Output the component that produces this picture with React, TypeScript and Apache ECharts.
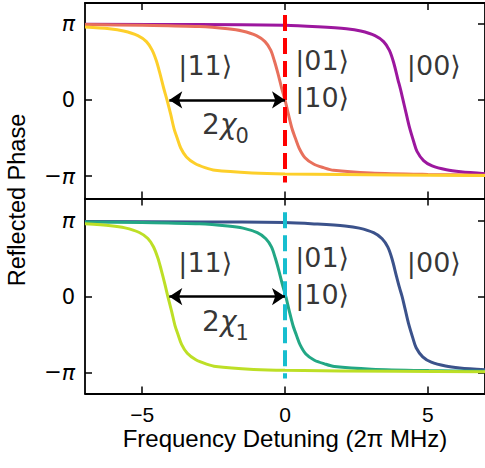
import React, { useEffect, useRef } from "react";
import * as echarts from "echarts";

const PI = Math.PI;
const xTicks = [-5, 0, 5];
const yTicks = [-PI, 0, PI];

// Top panel (qubit 0)
const top11X = [-7, -6.15, -5.65, -5.15, -4.85, -4.65, -4.5, -4.38, -4.25, -4.13, -4.0, -3.88, -3.78, -3.65, -3.45, -3.15, -2.8, -2.45, -1.15, 0.0, 3.85, 7];
const top11Y = [3.0, 2.93, 2.84, 2.65, 2.4, 2.05, 1.6, 1.1, 0.5, 0, -0.6, -1.2, -1.55, -1.98, -2.35, -2.62, -2.79, -2.9, -3.01, -3.05, -3.09, -3.11];
const top01X = [-7, -5, -3, -2, -1.5, -1.0, -0.7, -0.5, -0.37, -0.25, -0.12, 0, 0.12, 0.25, 0.37, 0.5, 0.7, 1.0, 1.35, 1.7, 3.0, 5.0, 7];
const top01Y = [3.1, 3.07, 3.02, 2.93, 2.84, 2.65, 2.4, 2.05, 1.6, 1.1, 0.5, 0, -0.6, -1.2, -1.6, -2.0, -2.38, -2.64, -2.79, -2.9, -3.01, -3.07, -3.1];
const top00X = [-7, -3, 0, 1.15, 2.15, 2.65, 3.15, 3.45, 3.65, 3.8, 3.95, 4.05, 4.13, 4.23, 4.35, 4.5, 4.62, 4.85, 5.15, 5.65, 6.15, 7];
const top00Y = [3.12, 3.1, 3.07, 3.01, 2.93, 2.84, 2.65, 2.4, 2.05, 1.55, 0.85, 0.4, 0, -0.5, -1.1, -1.7, -2.12, -2.5, -2.72, -2.88, -2.96, -3.04];

// Bottom panel (qubit 1)
const bot11X = [-7, -6.1, -5.6, -5.1, -4.8, -4.6, -4.45, -4.33, -4.2, -4.1, -3.97, -3.85, -3.75, -3.62, -3.42, -3.12, -2.77, -2.42, -1.1, 0.0, 3.9, 7];
const bot11Y = [3.02, 2.94, 2.85, 2.66, 2.41, 2.06, 1.6, 1.1, 0.5, 0, -0.6, -1.2, -1.55, -1.98, -2.35, -2.62, -2.79, -2.9, -3.02, -3.06, -3.1, -3.12];
const bot01X = [-7, -5, -3, -2, -1.47, -0.97, -0.67, -0.47, -0.34, -0.22, -0.09, 0.03, 0.15, 0.28, 0.4, 0.53, 0.73, 1.03, 1.38, 1.73, 3.03, 5.03, 7];
const bot01Y = [3.1, 3.07, 3.02, 2.93, 2.84, 2.65, 2.4, 2.05, 1.6, 1.1, 0.5, 0, -0.6, -1.2, -1.6, -2.0, -2.38, -2.64, -2.79, -2.9, -3.01, -3.07, -3.1];
const bot00X = [-7, -3, 0, 1.1, 2.1, 2.6, 3.1, 3.4, 3.6, 3.75, 3.9, 4.0, 4.1, 4.2, 4.32, 4.47, 4.59, 4.82, 5.12, 5.62, 6.12, 7];
const bot00Y = [3.12, 3.1, 3.07, 3.01, 2.93, 2.84, 2.65, 2.4, 2.05, 1.55, 0.85, 0.4, 0, -0.5, -1.1, -1.7, -2.12, -2.5, -2.72, -2.88, -2.96, -3.04];

const arrowFrom = -4.05;
const arrowTo = 0;
const dashTop = 3.5;
const dashBottom = -3.4;

const zip = (xs: number[], ys: number[]) => xs.map((x, i) => [x, ys[i]]);

const kets0 = [
  { text: "|11⟩", x: -2.79, y: 1.43 },
  { text: "|01⟩", x: 1.3, y: 1.61 },
  { text: "|10⟩", x: 1.3, y: 0.1 },
  { text: "|00⟩", x: 5.21, y: 1.4 },
];
const kets1 = [
  { text: "|11⟩", x: -2.79, y: 1.42 },
  { text: "|01⟩", x: 1.3, y: 1.62 },
  { text: "|10⟩", x: 1.3, y: 0.1 },
  { text: "|00⟩", x: 5.21, y: 1.42 },
];
const chiMain = { x: -2.3, y: -1.02 };
const chiSub = { x: -1.5, y: -1.5 };

const App: React.FC = () => {
  const ref = useRef<HTMLDivElement>(null);
  useEffect(() => {
    if (!ref.current) return;
    const chart = echarts.init(ref.current, undefined, { renderer: "svg" });

    const axisLineStyle = { color: "#000", width: 1.8 };
    const xAxis = (gridIndex: number, position: string, showLabel: boolean, name?: string) => ({
      type: "value",
      gridIndex,
      position,
      min: -7,
      max: 7,
      name,
      nameLocation: "middle",
      nameGap: 33,
      nameTextStyle: { fontFamily: "Liberation Sans", fontSize: 24, color: "#000" },
      splitLine: { show: false },
      axisLine: { show: true, onZero: false, lineStyle: axisLineStyle },
      axisTick: { show: true, inside: true, length: 7, customValues: xTicks, lineStyle: { color: "#000", width: 1.5 } },
      axisLabel: {
        show: showLabel,
        customValues: xTicks,
        margin: 10,
        fontFamily: "Liberation Sans",
        fontSize: 21,
        color: "#000",
        formatter: (v: number) => (v < 0 ? "\u2212" + Math.abs(v) : String(v)),
      },
    });
    const yAxis = (gridIndex: number, position: string, showLabel: boolean, min: number, max: number) => ({
      type: "value",
      gridIndex,
      position,
      min,
      max,
      splitLine: { show: false },
      axisLine: { show: true, onZero: false, lineStyle: axisLineStyle },
      axisTick: { show: true, inside: true, length: 7, customValues: yTicks, lineStyle: { color: "#000", width: 1.5 } },
      axisLabel: {
        show: showLabel,
        customValues: yTicks,
        margin: 10,
        fontFamily: "DejaVu Sans",
        fontSize: 21,
        color: "#000",
        formatter: (v: number) => (Math.abs(v) < 1e-6 ? "0" : v > 0 ? "{i|π}" : "\u2212{i|π}"),
        rich: { i: { fontFamily: "DejaVu Sans", fontStyle: "italic", fontSize: 22, color: "#000" } },
      },
    });

    const curve = (data: number[][], color: string, xi: number, z = 2, extra: any = {}) => ({
      type: "line",
      xAxisIndex: xi,
      yAxisIndex: xi,
      data,
      smooth: 0.3,
      showSymbol: false,
      symbol: "none",
      z,
      lineStyle: { color, width: 3 },
      ...extra,
    });

    const markLines = (dashColor: string) => ({
      markLine: {
        silent: true,
        animation: false,
        label: { show: false },
        data: [
          [
            { coord: [0, dashTop], symbol: "none", lineStyle: { color: dashColor, width: 4, type: [16, 7] } },
            { coord: [0, dashBottom], symbol: "none" },
          ],
          [
            { coord: [arrowFrom, 0], symbol: "arrow", symbolSize: 13, lineStyle: { color: "#000", width: 2.5, type: "solid" } },
            { coord: [arrowTo, 0], symbol: "arrow", symbolSize: 13 },
          ],
        ],
        symbol: ["arrow", "arrow"],
        lineStyle: { color: "#000", width: 2.5, type: "solid" },
      },
    });

    const ketSeries = (kets: { text: string; x: number; y: number }[], idx: number) => ({
      type: "scatter",
      xAxisIndex: idx,
      yAxisIndex: idx,
      symbolSize: 0,
      silent: true,
      z: 5,
      data: kets.map((k) => ({ value: [k.x, k.y], label: { formatter: k.text } })),
      label: { show: true, position: "inside", fontFamily: "DejaVu Sans", fontSize: 27, color: "#000" },
    });
    const chiSeries = (sub: string, idx: number) => ({
      type: "scatter",
      xAxisIndex: idx,
      yAxisIndex: idx,
      symbolSize: 0,
      silent: true,
      z: 5,
      data: [
        {
          value: [chiMain.x, chiMain.y],
          label: {
            formatter: "{n|2}{i|χ}",
            rich: {
              n: { fontFamily: "DejaVu Sans", fontSize: 28, color: "#000" },
              i: { fontFamily: "DejaVu Sans", fontStyle: "italic", fontSize: 28, color: "#000" },
            },
          },
        },
        {
          value: [chiSub.x, chiSub.y],
          label: { formatter: sub, fontFamily: "DejaVu Sans", fontSize: 21, color: "#000" },
        },
      ],
      label: { show: true, position: "inside" },
    });

    chart.setOption({
      animation: false,
      backgroundColor: "#fff",
      grid: [
        { left: 85, top: 3, width: 401, height: 195.5 },
        { left: 85, top: 198.5, width: 401, height: 195 },
      ],
      xAxis: [
        xAxis(0, "bottom", false),
        xAxis(1, "bottom", true, "Frequency Detuning (2π MHz)"),
        xAxis(0, "top", false),
        xAxis(1, "top", false),
      ],
      yAxis: [
        yAxis(0, "left", true, -4.06, 3.99),
        yAxis(1, "left", true, -4.02, 4.07),
        yAxis(0, "right", false, -4.06, 3.99),
        yAxis(1, "right", false, -4.02, 4.07),
      ],
      graphic: [
        {
          type: "text",
          x: 17,
          y: 200,
          rotation: Math.PI / 2,
          style: {
            text: "Reflected Phase",
            fontFamily: "Liberation Sans",
            fontSize: 23.5,
            fill: "#000",
            align: "center",
            verticalAlign: "middle",
          },
        },
      ],
      series: [
        curve(zip(top00X, top00Y), "#9C179E", 0, 2),
        curve(zip(top01X, top01Y), "#E8705C", 0, 3, markLines("#FF0000")),
        curve(zip(top11X, top11Y), "#FDCF2A", 0, 4),
        curve(zip(bot00X, bot00Y), "#3B528B", 1, 2),
        curve(zip(bot01X, bot01Y), "#22A785", 1, 3, markLines("#17BECF")),
        curve(zip(bot11X, bot11Y), "#BDDF26", 1, 4),
        ketSeries(kets0, 0),
        ketSeries(kets1, 1),
        chiSeries("0", 0),
        chiSeries("1", 1),
      ],
    });
    return () => chart.dispose();
  }, []);
  return <div ref={ref} style={{ position: "absolute", left: 0, top: 0, width: 485, height: 468 }} />;
};

export default App;
